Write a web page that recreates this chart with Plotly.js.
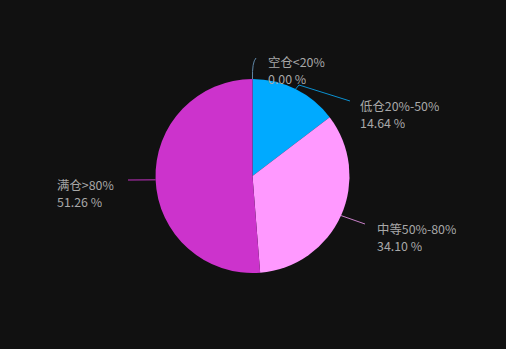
<!DOCTYPE html>
<html>
<head>
<meta charset="utf-8">
<script src="https://cdn.plot.ly/plotly-3.0.1.min.js"></script>
<style>html,body{margin:0;padding:0;background:#111111;}#chart{width:506px;height:349px;}</style>
</head>
<body>
<div id="chart"></div>
<script>
// ---- data ----
const categories = ['空仓<20%', '低仓20%-50%', '中等50%-80%', '满仓>80%'];
const percents = [0.00, 14.64, 34.10, 51.26];

// ---- style ----
const sliceColors = ['#5f86a6', '#00aaff', '#ff99ff', '#cc33cc'];
const lineColors = ['#5f86a6', '#0a90d0', '#c77fc7', '#c030c0'];
const W = 506, H = 349;
const CX = 252.5, CY = 176, R = 97;
// label placement (pixel anchors, style only): tx = text left edge, ty = first line centre
const labelCfg = [
  {bend: [256, 58], end: null,       tx: 267, ty: 61.5, curve: true},
  {bend: [299, 85], end: [350, 101], tx: 359, ty: 105.5},
  {bend: null,      end: [365, 224], tx: 376, ty: 228},
  {bend: null,      end: [128, 180], tx: 56,  ty: 184.5}
];
const LINE_GAP = 17;

const px = x => x / W;
const py = y => 1 - y / H;
const font = {family: 'Noto Sans CJK SC, Noto Sans, sans-serif', size: 12.4, color: '#a8a8a8'};

const total = percents.reduce((a, b) => a + b, 0);
let cum = 0;
const shapes = [];
const annotations = [];
percents.forEach((v, i) => {
  const mid = (cum + v / 2) / total * 2 * Math.PI;
  cum += v;
  const x0 = CX + R * Math.sin(mid), y0 = CY - R * Math.cos(mid);
  const c = labelCfg[i];
  let path = `M ${px(x0)},${py(y0)}`;
  if (c.curve) {
    path += ` Q ${px(x0 - 0.5)},${py(62)} ${px(c.bend[0])},${py(c.bend[1])}`;
  } else {
    if (c.bend) path += ` L ${px(c.bend[0])},${py(c.bend[1])}`;
    if (c.end) path += ` L ${px(c.end[0])},${py(c.end[1])}`;
  }
  shapes.push({type: 'path', xref: 'paper', yref: 'paper', path: path,
    line: {color: lineColors[i], width: 1}});
  [categories[i], v.toFixed(2) + ' %'].forEach((t, k) => {
    annotations.push({
      xref: 'paper', yref: 'paper', x: px(c.tx), y: py(c.ty + k * LINE_GAP),
      xanchor: 'left', yanchor: 'middle', align: 'left', valign: 'middle',
      showarrow: false, borderpad: 0, height: 15, text: t, font: font
    });
  });
});

const trace = {
  type: 'pie',
  labels: categories,
  values: percents,
  sort: false,
  direction: 'clockwise',
  rotation: 0,
  textinfo: 'none',
  hoverinfo: 'skip',
  marker: {colors: sliceColors, line: {width: 0}},
  domain: {x: [(CX - R) / W, (CX + R) / W], y: [1 - (CY + R) / H, 1 - (CY - R) / H]},
  showlegend: false
};

const layout = {
  width: W, height: H,
  margin: {l: 0, r: 0, t: 0, b: 0},
  paper_bgcolor: '#111111',
  plot_bgcolor: '#111111',
  showlegend: false,
  shapes: shapes,
  annotations: annotations
};

Plotly.newPlot('chart', [trace], layout, {displayModeBar: false, staticPlot: true});
</script>
</body>
</html>
